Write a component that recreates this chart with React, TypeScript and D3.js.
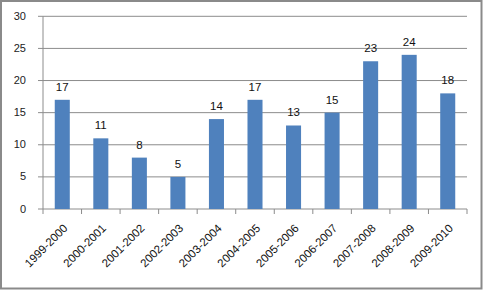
import React from "react";
import * as d3 from "d3";

const categories = ["1999-2000","2000-2001","2001-2002","2002-2003","2003-2004","2004-2005","2005-2006","2006-2007","2007-2008","2008-2009","2009-2010"];
const values = [17, 11, 8, 5, 14, 17, 13, 15, 23, 24, 18];
const yTicks = [0, 5, 10, 15, 20, 25, 30];

const W = 483, H = 290;
const left = 43, right = 467, top = 16.3, bottom = 209;
const font = "'Liberation Sans Narrow', 'Liberation Sans', Arial, sans-serif";

export default function App() {
  const x = d3.scaleBand<string>().domain(categories).range([left, right]).paddingInner(0.61).paddingOuter(0.305);
  const xb = d3.scaleBand<string>().domain(categories).range([left, right]);
  const y = d3.scaleLinear().domain([0, 30]).range([bottom, top]);
  return (
    <svg width={W} height={H} style={{ position: "absolute", left: 0, top: 0 }} fontFamily={font}>
      <rect x={0} y={0} width={W} height={H} fill="#fff" />
      <rect x={1} y={1} width={W - 2.5} height={H - 2.5} fill="none" stroke="#8a8a8a" strokeWidth={2} />
      {yTicks.map(t => (
        <g key={t}>
          {t > 0 && <line x1={left} x2={right} y1={y(t)} y2={y(t)} stroke="#8c8c8c" strokeWidth={1} />}
          <line x1={left - 5} x2={left} y1={y(t)} y2={y(t)} stroke="#8c8c8c" />
          <text x={26} y={y(t) + 3.5} textAnchor="end" fontSize={11} fill="#222">{t}</text>
        </g>
      ))}
      <line x1={left} x2={left} y1={top} y2={bottom} stroke="#8c8c8c" />
      <line x1={left} x2={right} y1={bottom} y2={bottom} stroke="#8c8c8c" />
      {categories.map((c) => (
        <line key={"t" + c} x1={xb(c)!} x2={xb(c)!} y1={bottom} y2={bottom + 5} stroke="#8c8c8c" />
      ))}
      <line x1={right} x2={right} y1={bottom} y2={bottom + 5} stroke="#8c8c8c" />
      {categories.map((c, i) => (
        <g key={c}>
          <rect x={x(c)!} y={y(values[i])} width={x.bandwidth()} height={bottom - y(values[i])} fill="#4F81BD" />
          <text x={x(c)! + x.bandwidth() / 2} y={y(values[i]) - 9} textAnchor="middle" fontSize={11.5} fill="#111">{values[i]}</text>
          <text transform={`translate(${xb(c)! + xb.bandwidth() / 2 + 6},${bottom + 20}) rotate(-45)`} textAnchor="end" fontSize={11.5} fill="#111">{c}</text>
        </g>
      ))}
    </svg>
  );
}
